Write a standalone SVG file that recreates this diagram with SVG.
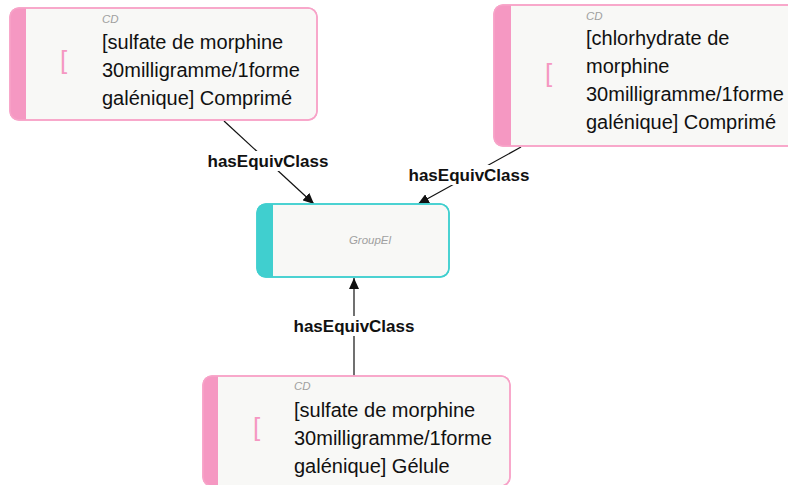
<svg xmlns="http://www.w3.org/2000/svg" width="788" height="485" viewBox="0 0 788 485">
<style>
.bg{fill:#ffffff}
.cd .box{fill:#f8f8f6;stroke:#f7a3c8;stroke-width:1.5}
.cd .stripe{fill:#f598c2}
.grp .box{fill:#f8f8f6;stroke:#40cfcf;stroke-width:1.5}
.grp .stripe{fill:#40cfcf}
.type{font-family:"Liberation Sans",Arial,sans-serif;font-size:11.5px;font-style:italic;fill:#a0a0a0}
.lbl{font-family:"Liberation Sans",Arial,sans-serif;font-size:20px;fill:#111111}
.icon{font-family:"Liberation Sans",Arial,sans-serif;font-size:26px;fill:#f598c2}
.edge{stroke:#111111;stroke-width:1.2;fill:none}
.elbl{font-family:"Liberation Sans",Arial,sans-serif;font-size:17px;font-weight:bold;fill:#111111;text-anchor:middle}
.elbg{fill:#ffffff}
</style>
<defs>
<marker id="arrow" markerUnits="userSpaceOnUse" markerWidth="12" markerHeight="10" refX="11" refY="5" orient="auto">
<path d="M0,0 L11,5 L0,10 Z" fill="#111111"/>
</marker>
<clipPath id="c1"><rect x="10" y="8" width="307" height="112" rx="9"/></clipPath>
<clipPath id="c2"><rect x="494" y="5" width="320" height="141" rx="9"/></clipPath>
<clipPath id="c3"><rect x="257" y="204" width="192" height="73" rx="9"/></clipPath>
<clipPath id="c4"><rect x="203" y="376" width="307" height="110" rx="9"/></clipPath>
</defs>
<rect class="bg" x="0" y="0" width="788" height="485"/>

<g id="connectors">
<line class="edge" x1="224" y1="121" x2="314" y2="204" marker-end="url(#arrow)"/>
<line class="edge" x1="521" y1="147" x2="418" y2="204" marker-end="url(#arrow)"/>
<line class="edge" x1="354" y1="376" x2="354" y2="278" marker-end="url(#arrow)"/>
<rect class="elbg" x="205" y="151" width="126" height="20"/>
<text class="elbl" x="268" y="167">hasEquivClass</text>
<rect class="elbg" x="406" y="165" width="126" height="20"/>
<text class="elbl" x="469" y="181">hasEquivClass</text>
<rect class="elbg" x="291" y="316" width="126" height="20"/>
<text class="elbl" x="354" y="332">hasEquivClass</text>
</g>

<g id="node-cd1" class="cd">
<rect class="box" x="10" y="8" width="307" height="112" rx="9"/>
<rect class="stripe" x="10" y="8" width="16" height="112" clip-path="url(#c1)"/>
<rect class="box" x="10" y="8" width="307" height="112" rx="9" style="fill:none"/>
<text class="icon" x="60" y="69">[</text>
<text class="type" x="102" y="23">CD</text>
<text class="lbl" x="102" y="49">[sulfate de morphine</text>
<text class="lbl" x="102" y="77">30milligramme/1forme</text>
<text class="lbl" x="102" y="105">galénique] Comprimé</text>
</g>

<g id="node-cd2" class="cd">
<rect class="box" x="494" y="5" width="320" height="141" rx="9"/>
<rect class="stripe" x="494" y="5" width="17" height="141" clip-path="url(#c2)"/>
<rect class="box" x="494" y="5" width="320" height="141" rx="9" style="fill:none"/>
<text class="icon" x="545" y="82">[</text>
<text class="type" x="586" y="20">CD</text>
<text class="lbl" x="586" y="45">[chlorhydrate de</text>
<text class="lbl" x="586" y="73">morphine</text>
<text class="lbl" x="586" y="101">30milligramme/1forme</text>
<text class="lbl" x="586" y="129">galénique] Comprimé</text>
</g>

<g id="node-group" class="grp">
<rect class="box" x="257" y="204" width="192" height="73" rx="9"/>
<rect class="stripe" x="257" y="204" width="16" height="73" clip-path="url(#c3)"/>
<rect class="box" x="257" y="204" width="192" height="73" rx="9" style="fill:none"/>
<text class="type" x="370" y="244" text-anchor="middle">GroupEl</text>
</g>

<g id="node-cd3" class="cd">
<rect class="box" x="203" y="376" width="307" height="110" rx="9"/>
<rect class="stripe" x="203" y="376" width="15" height="110" clip-path="url(#c4)"/>
<rect class="box" x="203" y="376" width="307" height="110" rx="9" style="fill:none"/>
<text class="icon" x="253" y="436">[</text>
<text class="type" x="294" y="390">CD</text>
<text class="lbl" x="294" y="417">[sulfate de morphine</text>
<text class="lbl" x="294" y="445">30milligramme/1forme</text>
<text class="lbl" x="294" y="473">galénique] Gélule</text>
</g>
</svg>
